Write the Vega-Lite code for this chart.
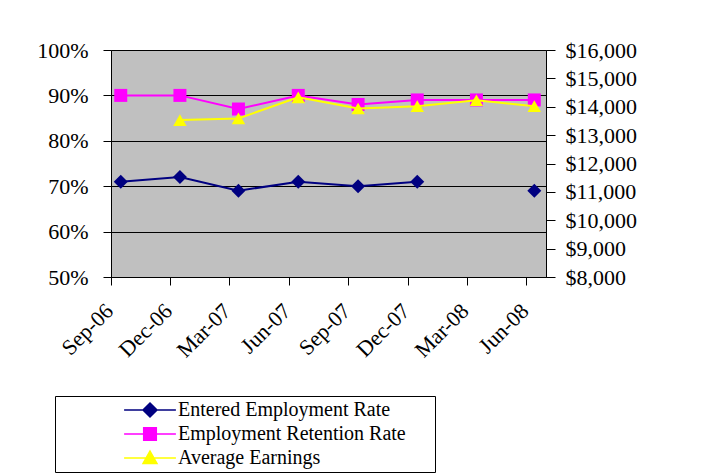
{
  "$schema": "https://vega.github.io/schema/vega-lite/v6.json",
  "width": 435,
  "height": 227,
  "autosize": {"type": "none"},
  "padding": {"left": 111, "top": 50, "right": 178, "bottom": 198},
  "background": "white",
  "config": {
    "font": "Liberation Serif",
    "view": {"fill": "#C0C0C0", "stroke": "#808080", "strokeWidth": 1},
    "axis": {
      "labelFont": "Liberation Serif",
      "labelFontSize": 22,
      "labelColor": "black",
      "domainColor": "black",
      "domainWidth": 1,
      "tickColor": "black",
      "tickWidth": 1,
      "title": null
    }
  },
  "data": {
    "values": [
      {"date": "2006-09-16", "series": "Entered Employment Rate", "value": 0.71},
      {"date": "2006-12-16", "series": "Entered Employment Rate", "value": 0.72},
      {"date": "2007-03-16", "series": "Entered Employment Rate", "value": 0.69},
      {"date": "2007-06-16", "series": "Entered Employment Rate", "value": 0.71},
      {"date": "2007-09-16", "series": "Entered Employment Rate", "value": 0.70},
      {"date": "2007-12-16", "series": "Entered Employment Rate", "value": 0.71},
      {"date": "2008-03-16", "series": "Entered Employment Rate", "value": null},
      {"date": "2008-06-13", "series": "Entered Employment Rate", "value": 0.69},
      {"date": "2006-09-16", "series": "Employment Retention Rate", "value": 0.90},
      {"date": "2006-12-16", "series": "Employment Retention Rate", "value": 0.90},
      {"date": "2007-03-16", "series": "Employment Retention Rate", "value": 0.87},
      {"date": "2007-06-16", "series": "Employment Retention Rate", "value": 0.90},
      {"date": "2007-09-16", "series": "Employment Retention Rate", "value": 0.88},
      {"date": "2007-12-16", "series": "Employment Retention Rate", "value": 0.89},
      {"date": "2008-03-16", "series": "Employment Retention Rate", "value": 0.89},
      {"date": "2008-06-13", "series": "Employment Retention Rate", "value": 0.89},
      {"date": "2006-12-16", "series": "Average Earnings", "value": 13530},
      {"date": "2007-03-16", "series": "Average Earnings", "value": 13590},
      {"date": "2007-06-16", "series": "Average Earnings", "value": 14330},
      {"date": "2007-09-16", "series": "Average Earnings", "value": 13940},
      {"date": "2007-12-16", "series": "Average Earnings", "value": 14020},
      {"date": "2008-03-16", "series": "Average Earnings", "value": 14230},
      {"date": "2008-06-13", "series": "Average Earnings", "value": 14020}
    ]
  },
  "encoding": {
    "x": {
      "field": "date",
      "type": "temporal",
      "scale": {
        "type": "utc",
        "domain": [
          {"year": 2006, "month": 9, "date": 1, "utc": true},
          {"year": 2008, "month": 7, "date": 1, "utc": true}
        ]
      },
      "axis": {
        "title": null,
        "grid": false,
        "values": [
          {"year": 2006, "month": 9, "date": 1, "utc": true},
          {"year": 2006, "month": 12, "date": 1, "utc": true},
          {"year": 2007, "month": 3, "date": 1, "utc": true},
          {"year": 2007, "month": 6, "date": 1, "utc": true},
          {"year": 2007, "month": 9, "date": 1, "utc": true},
          {"year": 2007, "month": 12, "date": 1, "utc": true},
          {"year": 2008, "month": 3, "date": 1, "utc": true},
          {"year": 2008, "month": 6, "date": 1, "utc": true}
        ],
        "labelExpr": "utcFormat(datum.value, '%b-%y')",
        "labelOverlap": false,
        "labelAngle": -45,
        "labelAlign": "right",
        "labelBaseline": "middle",
        "labelPadding": 22,
        "labelOffset": -2,
        "tickSize": 8,
        "labelFontSize": 22
      }
    },
    "color": {
      "field": "series",
      "type": "nominal",
      "scale": {
        "domain": ["Entered Employment Rate", "Employment Retention Rate", "Average Earnings"],
        "range": ["#000080", "#FF00FF", "#FFFF00"]
      },
      "legend": {
        "orient": "none",
        "legendX": -56,
        "legendY": 346,
        "title": null,
        "direction": "vertical",
        "strokeColor": "black",
        "fillColor": "white",
        "padding": 4,
        "labelFont": "Liberation Serif",
        "labelFontSize": 20,
        "labelColor": "black",
        "labelLimit": 500,
        "symbolSize": 196,
        "symbolOffset": 81,
        "labelOffset": 18,
        "rowPadding": 4,
        "symbolStrokeWidth": 1.5,
        "symbolOpacity": 1
      }
    }
  },
  "layer": [
    {
      "transform": [{"filter": "datum.series !== 'Average Earnings'"}],
      "encoding": {
        "y": {
          "field": "value",
          "type": "quantitative",
          "scale": {"domain": [0.5, 1], "nice": false, "zero": false},
          "axis": {
            "title": null,
            "orient": "left",
            "values": [0.5, 0.6, 0.7, 0.8, 0.9, 1.0],
            "format": ".0%",
            "grid": true,
            "gridColor": "black",
            "gridWidth": 1,
            "tickSize": 8,
            "labelPadding": 15
          }
        }
      },
      "layer": [
        {
          "mark": {"type": "point", "filled": true, "opacity": 1, "size": 0},
          "encoding": {
            "shape": {
              "field": "series",
              "type": "nominal",
              "scale": {
                "domain": ["Entered Employment Rate", "Employment Retention Rate", "Average Earnings"],
                "range": [
                  "M-3.7,0H3.7M0,-1L1,0L0,1L-1,0ZM39.7,0",
                  "M-3.7,0H3.7M-0.9,-0.9H0.9V0.9H-0.9ZM39.7,0",
                  "M-3.7,0H3.7M0,-1L1,0.8H-1ZM39.7,0"
                ]
              }
            }
          }
        },
        {
          "mark": {"type": "line", "invalid": "break-paths-filter-domains", "strokeWidth": 2},
          "encoding": {
            "strokeWidth": {
              "field": "series",
              "type": "nominal",
              "scale": {"domain": ["Entered Employment Rate", "Employment Retention Rate"], "range": [2, 1.5]},
              "legend": null
            }
          }
        },
        {
          "transform": [{"filter": "datum.series === 'Entered Employment Rate'"}],
          "mark": {"type": "point", "shape": "diamond", "filled": true, "opacity": 1, "size": 196},
          "encoding": {}
        },
        {
          "transform": [{"filter": "datum.series === 'Employment Retention Rate'"}],
          "mark": {"type": "point", "shape": "square", "filled": true, "opacity": 1, "size": 169},
          "encoding": {}
        }
      ]
    },
    {
      "transform": [{"filter": "datum.series === 'Average Earnings'"}],
      "encoding": {
        "y": {
          "field": "value",
          "type": "quantitative",
          "scale": {"domain": [8000, 16000], "nice": false, "zero": false},
          "axis": {
            "title": null,
            "orient": "right",
            "values": [8000, 9000, 10000, 11000, 12000, 13000, 14000, 15000, 16000],
            "format": "$,.0f",
            "grid": false,
            "tickSize": 9,
            "labelPadding": 10
          }
        }
      },
      "layer": [
        {
          "mark": {"type": "line", "strokeWidth": 2},
          "encoding": {}
        },
        {
          "mark": {"type": "point", "shape": "triangle-up", "filled": true, "opacity": 1, "size": 180},
          "encoding": {}
        }
      ]
    }
  ],
  "resolve": {"scale": {"y": "independent"}}
}
